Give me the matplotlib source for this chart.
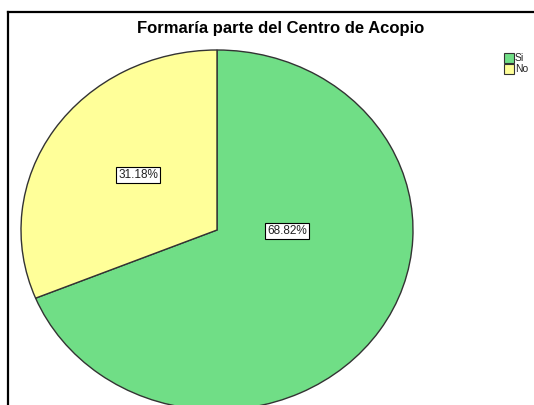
import matplotlib
matplotlib.use("Agg")
import matplotlib.pyplot as plt
from matplotlib.lines import Line2D
from matplotlib.patches import Rectangle

title = "Formaría parte del Centro de Acopio"
categories = ["Si", "No"]
values = [68.82, 31.18]
colors = ["#70DE86", "#FFFF99"]

W, H = 534, 405
fig = plt.figure(figsize=(W / 100, H / 100), dpi=100)
fig.patch.set_facecolor("white")

plt.rcParams["font.family"] = ["Liberation Sans", "DejaVu Sans"]

def fx(x):
    return x / W

def fy(y):
    return 1 - y / H

# frame lines
fig.add_artist(Line2D([fx(8), fx(8)], [fy(12), fy(410)], color="black", lw=1.6,
                      transform=fig.transFigure, solid_capstyle="projecting"))
fig.add_artist(Line2D([fx(8), fx(540)], [fy(12), fy(12)], color="black", lw=1.6,
                      transform=fig.transFigure, solid_capstyle="projecting"))

# pie: ellipse center (217,230), rx 196, ry 180
cx, cy, rx, ry = 217, 230, 196, 180
ax = fig.add_axes([fx(cx - rx), fy(cy + ry), 2 * rx / W, 2 * ry / H])
wedges, _ = ax.pie(values, colors=colors, startangle=90, counterclock=False,
                   wedgeprops=dict(edgecolor="#333333", linewidth=1.0))
ax.set_aspect("auto")
ax.set_xlim(-1, 1)
ax.set_ylim(-1, 1)
ax.axis("off")
for w in wedges:
    w.set_clip_on(False)

# percentage labels (pixel positions of label boxes)
label_px = [(287, 231), (138, 175)]
for v, (px, py) in zip(values, label_px):
    fig.text(fx(px), fy(py), f"{v:.2f}%", ha="center", va="center",
             fontsize=8.5, color="#222222",
             bbox=dict(boxstyle="square,pad=0.2", facecolor="white", edgecolor="black", lw=0.8))

# title
fig.text(fx(281), fy(28), title, ha="center", va="center", fontsize=12, fontweight="bold")

# legend
for i, (lab, col) in enumerate(zip(categories, colors)):
    y0 = 53 + i * 11
    fig.add_artist(Rectangle((fx(504), fy(y0 + 10)), 10 / W, 10 / H, transform=fig.transFigure,
                             facecolor=col, edgecolor="#333333", lw=0.8))
    fig.text(fx(515), fy(y0 + 5), lab, ha="left", va="center", fontsize=7.5, color="#222222")

fig.savefig("out.png", dpi=100)
